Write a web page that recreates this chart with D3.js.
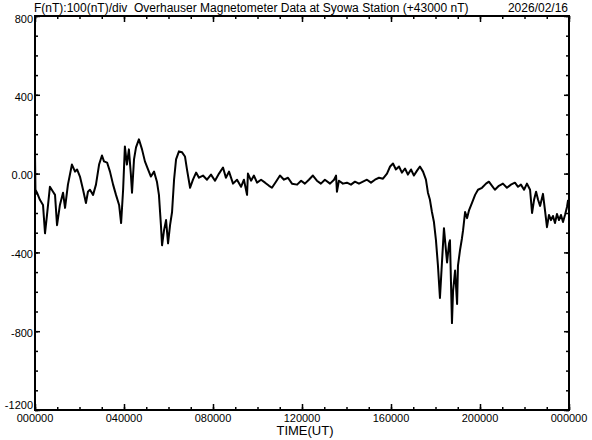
<!DOCTYPE html>
<html lang="en">
<head>
<meta charset="UTF-8">
<title>Syowa Overhauser Magnetometer</title>
<script src="https://d3js.org/d3.v7.min.js"></script>
<style>
    body { margin: 0; background: #fff; }
    svg { display: block; font-family: "Liberation Sans", Arial, sans-serif; }
    .domain { display: none; }
    .tick line { stroke: #000; stroke-width: 1.5; }
    .tick text { fill: #000; font-size: 11px; }
</style>
</head>
<body>
<svg width="592" height="440"></svg>
<script>
// time in hours UT, F in nT (offset from 43000 nT)
const hours = [
    0.00, 0.02, 0.09, 0.22, 0.36, 0.45, 0.54, 0.67, 0.81, 0.90, 0.99, 1.12, 1.26, 1.35, 1.48, 1.66,
    1.80, 1.89, 2.02, 2.16, 2.29, 2.38, 2.47, 2.61, 2.74, 2.88, 3.01, 3.10, 3.24, 3.37, 3.51, 3.64,
    3.78, 3.87, 3.96, 4.04, 4.13, 4.22, 4.31, 4.36, 4.45, 4.54, 4.67, 4.81, 4.94, 5.08, 5.21, 5.35,
    5.48, 5.57, 5.66, 5.71, 5.80, 5.89, 5.98, 6.07, 6.16, 6.25, 6.34, 6.47, 6.61, 6.74, 6.83, 6.97,
    7.10, 7.24, 7.37, 7.55, 7.73, 7.91, 8.09, 8.27, 8.45, 8.58, 8.72, 8.90, 9.08, 9.26, 9.39, 9.53,
    9.57, 9.71, 9.84, 9.98, 10.16, 10.34, 10.52, 10.65, 10.83, 11.01, 11.19, 11.37, 11.55, 11.78,
    11.96, 12.13, 12.31, 12.49, 12.67, 12.85, 13.03, 13.26, 13.44, 13.53, 13.57, 13.66, 13.84, 14.02,
    14.20, 14.38, 14.56, 14.74, 14.92, 15.10, 15.28, 15.46, 15.64, 15.82, 15.96, 16.09, 16.22, 16.36,
    16.49, 16.63, 16.76, 16.90, 17.03, 17.17, 17.30, 17.44, 17.57, 17.66, 17.75, 17.84, 17.93, 18.02,
    18.11, 18.20, 18.29, 18.38, 18.47, 18.52, 18.61, 18.65, 18.74, 18.79, 18.88, 18.97, 19.01, 19.10,
    19.19, 19.24, 19.33, 19.42, 19.51, 19.64, 19.78, 19.91, 20.09, 20.27, 20.40, 20.54, 20.67, 20.85,
    21.03, 21.21, 21.39, 21.57, 21.71, 21.84, 21.98, 22.11, 22.25, 22.34, 22.43, 22.52, 22.61, 22.70,
    22.83, 22.92, 23.01, 23.10, 23.19, 23.28, 23.37, 23.46, 23.55, 23.64, 23.73, 23.82, 23.91, 23.96
];
const fValues = [
    108, -82, -97, -133, -159, -303, -210, -67, -92, -108, -262, -159, -97, -174, -56, 46,
    10, 21, -15, -82, -149, -92, -82, -108, -56, 46, 92, 62, 56, 10, -56, -108,
    -159, -251, -82, 138, 46, 123, -5, -97, 72, 133, 174, 123, 62, 21, -15, 10,
    -41, -108, -262, -364, -287, -236, -354, -262, -195, -31, 72, 113, 108, 87, 21, -72,
    -31, 5, -21, -10, -31, -5, -36, 0, 31, -21, 10, -51, -31, -67, -31, -108,
    0, -36, -10, -46, -31, -46, -62, -72, -41, -10, -31, -21, -51, -56,
    -36, -51, -31, -10, -36, -51, -31, -51, -31, -10, -92, -36, -51, -46,
    -56, -41, -51, -41, -31, -46, -31, -21, -26, 0, 36, 51, 21, 36,
    5, 26, -5, 21, -10, 15, 36, 10, -31, -97, -133, -195, -246, -338,
    -467, -631, -451, -277, -390, -451, -354, -338, -759, -595, -492, -662, -467, -390,
    -328, -287, -195, -226, -185, -149, -108, -82, -72, -51, -41, -62, -82, -62,
    -51, -72, -56, -46, -67, -56, -82, -51, -82, -200, -133, -92, -133, -164,
    -103, -185, -272, -210, -236, -215, -251, -205, -236, -210, -246, -210, -169, -133
];
const xTicks = [0, 4, 8, 12, 16, 20, 24];
const xTickLabels = ["000000", "040000", "080000", "120000", "160000", "200000", "000000"];
const yTicks = [800, 400, 0, -400, -800, -1200];
const yTickLabels = ["800", "400", "0.00", "-400", "-800", "-1200"];

const svg = d3.select("svg"),
      margin = {top: 16, right: 23, bottom: 30, left: 35},
      width = +svg.attr("width") - margin.left - margin.right,
      height = +svg.attr("height") - margin.top - margin.bottom;

const g = svg.append("g")
    .attr("transform", `translate(${margin.left},${margin.top})`);

const x = d3.scaleLinear().domain([0, 24]).range([0, width]);
const y = d3.scaleLinear().domain([-1200, 800]).range([height, 0]);

const minorX = d3.range(0, 25, 1);
const minorY = d3.range(-1200, 801, 100);

// inward ticks on all four sides, minor then major
function ticks(axisFn, vals, size, transform) {
    g.append("g")
        .attr("transform", transform)
        .call(axisFn.tickValues(vals).tickSizeInner(-size).tickSizeOuter(0).tickFormat(""));
}
ticks(d3.axisBottom(x), minorX, 3, `translate(0,${height})`);
ticks(d3.axisBottom(x), xTicks, 6, `translate(0,${height})`);
ticks(d3.axisTop(x), minorX, 3, "translate(0,0)");
ticks(d3.axisTop(x), xTicks, 6, "translate(0,0)");
ticks(d3.axisLeft(y), minorY, 3, "translate(0,0)");
ticks(d3.axisLeft(y), yTicks, 5, "translate(0,0)");
ticks(d3.axisRight(y), minorY, 3, `translate(${width},0)`);
ticks(d3.axisRight(y), yTicks, 5, `translate(${width},0)`);

// frame
g.append("rect")
    .attr("width", width)
    .attr("height", height)
    .attr("fill", "none")
    .attr("stroke", "#000")
    .attr("stroke-width", 2);

// x labels
g.selectAll(".xlab")
    .data(xTicks)
    .enter().append("text")
    .attr("class", "xlab")
    .attr("x", d => x(d))
    .attr("y", height + 12)
    .attr("text-anchor", "middle")
    .attr("font-size", 11)
    .text((d, i) => xTickLabels[i]);

// y labels
g.selectAll(".ylab")
    .data(yTicks)
    .enter().append("text")
    .attr("class", "ylab")
    .attr("x", -2)
    .attr("y", d => Math.min(Math.max(y(d) + 2, 3), height - 5))
    .attr("dy", "0.35em")
    .attr("text-anchor", "end")
    .attr("font-size", 11)
    .text((d, i) => yTickLabels[i]);

// titles
svg.append("text")
    .attr("x", 34)
    .attr("y", 12)
    .attr("font-size", 12)
    .text("F(nT):100(nT)/div  Overhauser Magnetometer Data at Syowa Station (+43000 nT)")
    .attr("xml:space", "preserve");

svg.append("text")
    .attr("x", 568)
    .attr("y", 12)
    .attr("font-size", 12)
    .attr("text-anchor", "end")
    .text("2026/02/16");

svg.append("text")
    .attr("x", 305)
    .attr("y", 435)
    .attr("font-size", 13)
    .attr("text-anchor", "middle")
    .text("TIME(UT)");

// data line
const line = d3.line()
    .x((d, i) => x(hours[i]))
    .y(d => y(d));

g.append("path")
    .datum(fValues)
    .attr("fill", "none")
    .attr("stroke", "#000")
    .attr("stroke-width", 2)
    .attr("stroke-linejoin", "round")
    .attr("d", line);
</script>
</body>
</html>
